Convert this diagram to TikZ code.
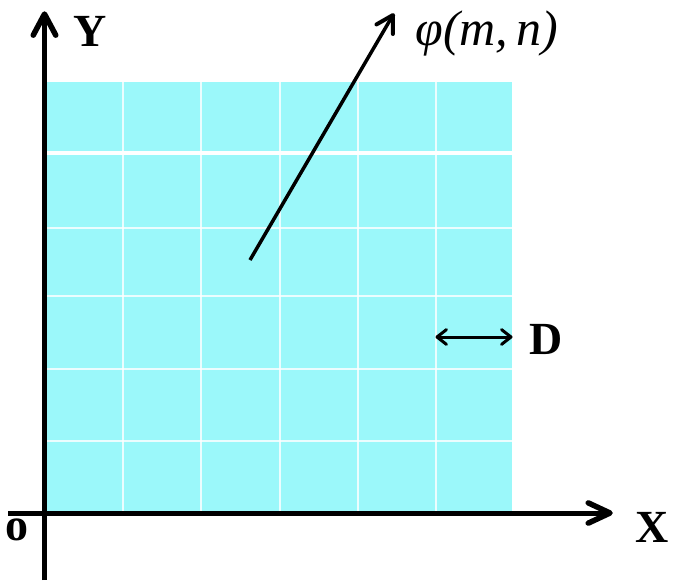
\documentclass[tikz,border=0pt]{standalone}
\usepackage{fontspec}
\setmainfont{Liberation Serif}
\usetikzlibrary{calc}
\definecolor{cellcyan}{RGB}{155,248,250}
\tikzset{
  axis/.style={line width=5pt},
  barb/.style={line cap=round,line join=round},
  gridline/.style={white,line width=2pt,opacity=0.8},
  axlabel/.style={font=\fontsize{46}{46}\selectfont\bfseries,inner sep=0pt},
  pointer/.style={line width=3.5pt},
  dim/.style={line width=3pt}
}
% tip at #1, line coming from #2, wing length #3, line width #4, half-angle #5
\newcommand\barbtip[5]{\draw[barb,line width=#4] ($(#1)!#3!#5:(#2)$) -- (#1) -- ($(#1)!#3!-#5:(#2)$);}
\begin{document}
\begin{tikzpicture}[x=1pt,y=-1pt]
\useasboundingbox (0,0) rectangle (675,587);
% cyan field
\fill[cellcyan] (47,82) rectangle (512,511);
\foreach \gx in {123,201,280,358,436} \draw[gridline] (\gx,82) -- (\gx,511);
\foreach \gy in {228,296,369,441} \draw[gridline] (47,\gy) -- (512,\gy);
\draw[white,line width=3.5pt] (47,153) -- (512,153);
% axes
\coordinate (ybot) at (44.5,580);
\coordinate (ytop) at (44.5,14);
\coordinate (xleft) at (8,513);
\coordinate (xright) at (610,513);
\draw[axis] (ybot) -- (ytop);
\barbtip{ytop}{ybot}{24pt}{5.5pt}{28}
\draw[axis] (xleft) -- (xright);
\barbtip{xright}{xleft}{24pt}{5.5pt}{25}
\node[axlabel] (ylab) at (90,31) {Y};
\node[axlabel] (xlab) at (652,527) {X};
\node[axlabel] (olab) at (17,530) {o};
% phi pointer
\coordinate (pstart) at (250,260);
\coordinate (pend) at (393,15);
\draw[pointer] (pstart) -- (pend);
\barbtip{pend}{pstart}{19pt}{4pt}{30}
\node[inner sep=0pt,font=\fontsize{50}{50}\selectfont\itshape] (phi) at (487,33) {φ(m,\,n)};
% D dimension
\coordinate (dl) at (437,337);
\coordinate (dr) at (511,337);
\draw[dim] (dl) -- (dr);
\barbtip{dl}{dr}{12pt}{3pt}{38}
\barbtip{dr}{dl}{12pt}{3pt}{38}
\node[axlabel] (dlab) at (546,339) {D};
\end{tikzpicture}
\end{document}
